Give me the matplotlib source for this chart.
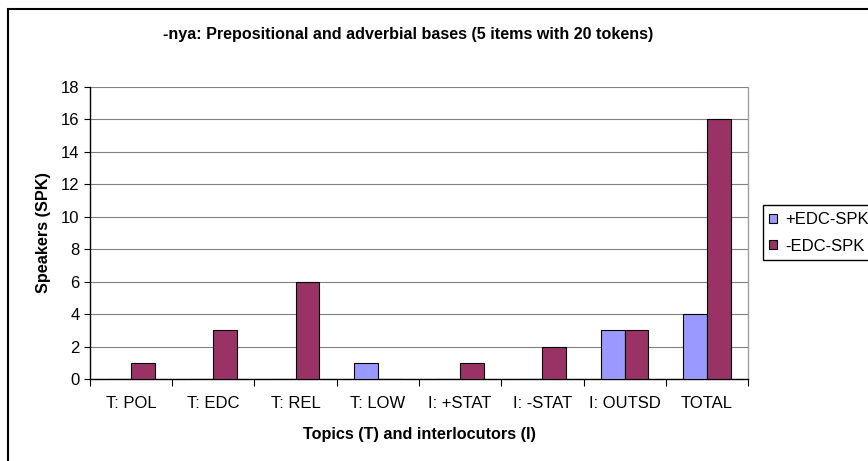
import matplotlib
matplotlib.use("Agg")
import matplotlib.pyplot as plt
import matplotlib.patches as mpatches
import numpy as np

categories = ["T: POL", "T: EDC", "T: REL", "T: LOW", "I: +STAT", "I: -STAT", "I: OUTSD", "TOTAL"]
plus_edc = [0, 0, 0, 1, 0, 0, 3, 4]
minus_edc = [1, 3, 6, 0, 1, 2, 3, 16]
series_names = ["+EDC-SPK", "-EDC-SPK"]
y_ticks = [0, 2, 4, 6, 8, 10, 12, 14, 16, 18]

plt.rcParams['font.family'] = ['Liberation Sans', 'DejaVu Sans']

fig = plt.figure(figsize=(8.68, 4.61), dpi=100)
ax = fig.add_axes([90 / 868, 1 - 379 / 461, 658 / 868, 292 / 461])

x = np.arange(len(categories))
w = 0.29
ax.bar(x - w / 2, plus_edc, w, color="#9999FF", edgecolor="black", linewidth=0.8, label=series_names[0], zorder=3)
ax.bar(x + w / 2, minus_edc, w, color="#993366", edgecolor="black", linewidth=0.8, label=series_names[1], zorder=3)

ax.set_xlim(-0.5, len(categories) - 0.5)
ax.set_ylim(0, 18)
ax.set_yticks(y_ticks)
ax.tick_params(axis="y", labelsize=12, length=4, direction="out")
ax.yaxis.grid(True, color="#808080", linewidth=0.8, zorder=0)

# category labels sit between tick marks, like Excel
ax.set_xticks(np.arange(len(categories) + 1) - 0.5)
ax.set_xticklabels([])
ax.set_xticks(x, minor=True)
ax.set_xticklabels(categories, minor=True, fontsize=12)
ax.tick_params(axis="x", which="major", length=5, direction="out")
ax.tick_params(axis="x", which="minor", length=0, pad=12)

for s in ["left", "bottom"]:
    ax.spines[s].set_color("black")
    ax.spines[s].set_linewidth(1.0)
ax.spines["right"].set_color("#A0A0A0")
ax.spines["right"].set_linewidth(1.0)
ax.spines["top"].set_visible(False)

ax.set_xlabel("Topics (T) and interlocutors (I)", fontsize=11.7, fontweight="bold", labelpad=12)
ax.set_ylabel("Speakers (SPK)", fontsize=11.7, fontweight="bold", labelpad=7)
fig.text(408 / 868, 1 - 35 / 461, "-nya: Prepositional and adverbial bases (5 items with 20 tokens)",
         ha="center", va="center", fontsize=11.6, fontweight="bold")

# outer chart frame, cut off on the right and bottom
frame = mpatches.Rectangle((8 / 868, -0.05), 1.0, 1 - 9 / 461 + 0.05, transform=fig.transFigure,
                           fill=False, edgecolor="black", linewidth=1.5, clip_on=False)
fig.patches.append(frame)

# legend box, also running off the right edge
legbox = mpatches.Rectangle((763 / 868, 1 - 260 / 461), 0.2, 55 / 461, transform=fig.transFigure,
                            fill=True, facecolor="white", edgecolor="black", linewidth=1.0, clip_on=False)
fig.patches.append(legbox)

leg = fig.legend(loc="center left", bbox_to_anchor=(769 / 868, 1 - 233 / 461), fontsize=12,
                 frameon=False, handlelength=0.5, handleheight=0.5, handletextpad=0.5,
                 borderpad=0, borderaxespad=0, labelspacing=0.68)

fig.savefig("out.png", dpi=100)
